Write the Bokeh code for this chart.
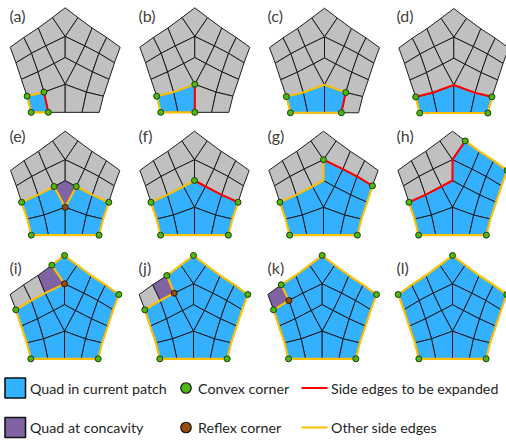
from bokeh.plotting import figure
from bokeh.embed import file_html
from bokeh.resources import INLINE
from bokeh.core.properties import value
from bokeh.models import Range1d

# Mesh nodes, left half; the right half is the mirror image (name + ')
NODES = {
    "T": (0, 0), "A": (0, 85), "B": (0, 147), "C": (0, 227), "D": (0, 310),
    "e1": (-38, 29), "e2": (-80, 60), "e3": (-123, 88), "L": (-163, 117),
    "f1": (-146, 163), "f2": (-130, 212), "f3": (-113, 262), "BL": (-101, 310),
    "g1": (-50, 310),
    "n1": (-58, 113), "n2": (-100, 135), "n3": (-33, 165), "n4": (-81, 190), "n5": (-63, 250),
}
def m(n):
    return n if n in ("T", "A", "B", "C", "D") else n + "'"

HALF_QUADS = {
    "Q1": ["e1", "e2", "n1", "A"], "Q2": ["e2", "e3", "n2", "n1"], "Q3": ["e3", "L", "f1", "n2"],
    "Q4": ["A", "n1", "n3", "B"], "Q5": ["n1", "n2", "n4", "n3"], "Q6": ["n2", "f1", "f2", "n4"],
    "Q8": ["n3", "n4", "n5", "C"], "Q9": ["n4", "f2", "f3", "n5"],
    "Q10": ["C", "n5", "g1", "D"], "Q11": ["n5", "f3", "BL", "g1"],
}
QUADS = {"CT": ["T", "e1", "A", "e1'"], "DIA": ["B", "n3", "C", "n3'"]}
for k, v in HALF_QUADS.items():
    QUADS[k] = v
    QUADS[k + "'"] = [m(n) for n in v]

LABELS = ["(a)", "(b)", "(c)", "(d)", "(e)", "(f)", "(g)", "(h)", "(i)", "(j)", "(k)", "(l)"]
ORIGIN_X = [64.7, 194.3, 324, 453.3, 64.7, 194, 323, 452, 64, 193, 321.7, 452]
ORIGIN_Y = [7.3, 7.3, 7.7, 8, 130.7, 130.7, 130.7, 130.7, 255, 255, 255, 255]
SCALE = [1.012] * 4 + [1.006] * 4 + [1.0] * 4
LABEL_X = [9, 138, 267, 396, 9, 138, 267, 396, 9, 138, 267, 396]
LABEL_Y = [15, 15, 15, 15, 135, 135, 135, 135, 267, 267, 267, 267]

B_D = ["Q11", "Q10", "Q10'", "Q11'"]
B_E = B_D + ["Q8", "Q9", "Q8'", "Q9'"]
B_F = B_E + ["DIA"]
B_G = B_F + ["Q4'", "Q5'", "Q6'"]
B_H = B_G + ["Q1'", "Q2'", "Q3'"]
B_I = B_H + ["CT", "Q4", "Q5", "Q6"]
BLUE = [["Q11"], ["Q11", "Q10"], ["Q11", "Q10", "Q10'"], B_D, B_E, B_F, B_G, B_H,
        B_I, B_I + ["Q1"], B_I + ["Q1", "Q2"], B_I + ["Q1", "Q2", "Q3"]]
PURPLE = [[], [], [], [], ["DIA"], [], [], [], ["Q1"], ["Q2"], ["Q3"], []]

BOT = ["BL", "g1", "D", "g1'", "BL'"]
RIM = ["BL'", "f3'", "f2'", "f1'", "L'", "e3'", "e2'", "e1'", "T"]
TOPL = ["T", "e1", "e2", "e3", "L"]
RED = [
    [["n5", "g1"]], [["C", "D"]], [["n5'", "g1'"]], [["f3", "n5", "C", "n5'", "f3'"]],
    [], [["B", "n3'", "n4'", "f2'"]], [["A", "n1'", "n2'", "f1'"]],
    [["f2", "n4", "n3", "B", "A", "e1'"]], [], [], [], [],
]
YEL = [
    [["f3", "n5"], ["f3", "BL", "g1"]],
    [["f3", "n5", "C"], ["f3", "BL", "g1", "D"]],
    [["f3", "n5", "C", "n5'"], ["f3", "BL"] + BOT[1:4]],
    [["f3", "BL"] + BOT[1:] + ["f3'"]],
    [["f2", "n4", "n3", "C", "n3'", "n4'", "f2'"], ["f2", "f3"] + BOT + ["f3'", "f2'"]],
    [["f2", "n4", "n3", "B"], ["f2", "f3"] + BOT + ["f3'", "f2'"]],
    [["f2", "n4", "n3", "B", "A"], ["f2", "f3"] + BOT + ["f3'", "f2'", "f1'"]],
    [["f2", "f3"] + BOT + RIM[1:8]],
    [["e1", "A", "n1", "n2", "f1", "f2", "f3"] + BOT + RIM[1:] + ["e1"]],
    [["e2", "n1", "n2", "f1", "f2", "f3"] + BOT + RIM[1:] + ["e1", "e2"]],
    [["e3", "n2", "f1", "f2", "f3"] + BOT + RIM[1:] + ["e1", "e2", "e3"]],
    [["L", "f1", "f2", "f3"] + BOT + RIM[1:] + TOPL[1:]],
]
CONVEX = [
    ["f3", "n5", "g1", "BL"], ["f3", "C", "D", "BL"], ["f3", "n5'", "g1'", "BL"],
    ["f3", "f3'", "BL", "BL'"], ["f2", "n3", "n3'", "f2'", "BL", "BL'"],
    ["f2", "B", "f2'", "BL", "BL'"], ["A", "f2", "f1'", "BL", "BL'"],
    ["e1'", "L'", "f2", "BL", "BL'"],
    ["T", "L'", "BL", "BL'", "f1", "e1"], ["T", "L'", "BL", "BL'", "f1", "e2"],
    ["T", "L'", "BL", "BL'", "f1", "e3"], ["T", "L'", "BL", "BL'", "L"],
]
REFLEX = [[], [], [], [], ["C"], [], [], [], ["A"], ["n1"], ["n2"], []]

LEGEND_COL1 = ["Quad in current patch", "Quad at concavity"]
LEGEND_COL2 = ["Convex corner", "Reflex corner"]
LEGEND_COL3 = ["Side edges to be expanded", "Other side edges"]

C_GRAY, C_BLUE, C_PURPLE = "#C0C0C0", "#33B1FF", "#8064A2"
C_GREEN, C_BROWN, C_RED, C_YEL = "#4FB80E", "#974B0C", "#FF0000", "#FFC000"
C_TEXT = "#1F1F1F"
FONT = value("Lato")

p = figure(width=506, height=443, output_backend="svg", toolbar_location=None,
           x_range=Range1d(0, 506), y_range=Range1d(443, 0), min_border=0)
p.axis.visible = False
p.grid.visible = False
p.outline_line_color = None

def pos(name, i):
    base = name.rstrip("'")
    x, y = NODES[base]
    if name.endswith("'"):
        x = -x
    return ORIGIN_X[i] + SCALE[i] * x / 3, ORIGIN_Y[i] + SCALE[i] * y / 3

for i in range(12):
    xs, ys, cs = [], [], []
    for q, nodes in QUADS.items():
        pts = [pos(n, i) for n in nodes]
        xs.append([a for a, _ in pts])
        ys.append([b for _, b in pts])
        cs.append(C_BLUE if q in BLUE[i] else C_PURPLE if q in PURPLE[i] else C_GRAY)
    p.patches(xs, ys, fill_color=cs, line_color="#151515", line_width=0.95, line_join="round")
    for paths, col in ((YEL[i], C_YEL), (RED[i], C_RED)):
        if paths:
            lx = [[pos(n, i)[0] for n in path] for path in paths]
            ly = [[pos(n, i)[1] for n in path] for path in paths]
            p.multi_line(lx, ly, line_color=col, line_width=2.1, line_join="round", line_cap="round")
    p.scatter([pos(n, i)[0] for n in CONVEX[i]], [pos(n, i)[1] for n in CONVEX[i]],
              size=6, fill_color=C_GREEN, line_color="#1E3A0A", line_width=1)
    if REFLEX[i]:
        p.scatter([pos(n, i)[0] for n in REFLEX[i]], [pos(n, i)[1] for n in REFLEX[i]],
                  size=6, fill_color=C_BROWN, line_color="#301804", line_width=1)

p.text(LABEL_X, LABEL_Y, text=LABELS, text_font=FONT, text_font_size="16px",
       text_color="#404040", text_baseline="middle", text_align="left")

ROW_Y = [387.5, 427]
p.quad(left=[4.5, 4.5], right=[25, 25], top=[377.5, 417], bottom=[397.5, 437],
       fill_color=[C_BLUE, C_PURPLE], line_color="#111111", line_width=1.6)
p.scatter([185.5, 185.5], ROW_Y, size=10.5, fill_color=[C_GREEN, C_BROWN], line_color="#111111", line_width=1.2)
p.multi_line([[301, 327], [301, 327]], [[ROW_Y[0]] * 2, [ROW_Y[1]] * 2], line_color=[C_RED, C_YEL], line_width=2.2)
for x, col in ((29.5, LEGEND_COL1), (197.5, LEGEND_COL2), (330.5, LEGEND_COL3)):
    p.text([x, x], ROW_Y, text=col, text_font=FONT, text_font_size="14.25px",
           text_color=C_TEXT, text_baseline="middle", text_align="left")

open("out.html", "w").write(file_html(p, INLINE))
